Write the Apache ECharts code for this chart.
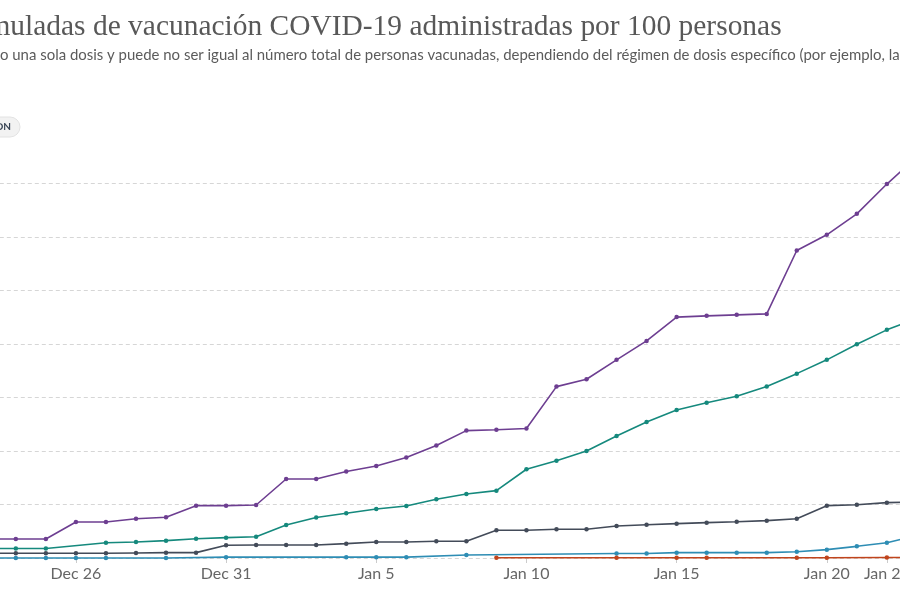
<!DOCTYPE html>
<html lang="es">
<head>
    <meta charset="utf-8">
    <title>Dosis acumuladas de vacunación COVID-19 administradas por 100 personas</title>
    <style>
        html, body { margin: 0; padding: 0; overflow: hidden; background: #fff; }
        /* el gráfico es más ancho que la ventana: la captura original está recortada */
        #main { position: absolute; left: -100px; top: 0; width: 1100px; height: 600px; }
    </style>
</head>
<body>
<div id="main"></div>
<script src="https://cdn.jsdelivr.net/npm/echarts@6/dist/echarts.min.js"></script>
<script type="text/javascript">

    // fechas (una por día)
    var dates = ['Dec 23', 'Dec 24', 'Dec 25', 'Dec 26', 'Dec 27', 'Dec 28', 'Dec 29', 'Dec 30', 'Dec 31',
        'Jan 1', 'Jan 2', 'Jan 3', 'Jan 4', 'Jan 5', 'Jan 6', 'Jan 7', 'Jan 8', 'Jan 9', 'Jan 10',
        'Jan 11', 'Jan 12', 'Jan 13', 'Jan 14', 'Jan 15', 'Jan 16', 'Jan 17', 'Jan 18', 'Jan 19',
        'Jan 20', 'Jan 21', 'Jan 22', 'Jan 23'];
    // etiquetas visibles del eje x
    var tickLabels = ['Dec 26', 'Dec 31', 'Jan 5', 'Jan 10', 'Jan 15', 'Jan 20', 'Jan 22'];

    // dosis por 100 personas (null = sin dato ese día)
    var purpleData = [1.78, 1.78, 1.78, 3.36, 3.36, 3.67, 3.80, 4.89, 4.89,
        4.95, 7.38, 7.38, 8.08, 8.60, 9.39, 10.50, 11.90, 11.98, 12.10,
        16.01, 16.70, 18.51, 20.28, 22.50, 22.62, 22.71, 22.80, 28.72,
        30.19, 32.15, 34.93, 37.48];
    var tealData = [0.89, 0.89, 0.89, null, 1.43, 1.50, 1.62, 1.80, 1.90,
        1.99, 3.08, 3.79, 4.18, 4.58, 4.86, 5.49, 5.98, 6.29, 8.29,
        9.09, 10.00, 11.40, 12.71, 13.83, 14.51, 15.11, 16.01, 17.22,
        18.51, 19.97, 21.31, 22.38];
    var grayData = [0.44, 0.44, 0.44, 0.44, 0.44, 0.47, 0.50, 0.50, 1.19,
        1.21, 1.21, 1.21, 1.34, 1.50, 1.50, 1.57, 1.57, 2.59, 2.59,
        2.69, 2.69, 2.99, 3.11, 3.21, 3.30, 3.39, 3.49, 3.67,
        4.89, 4.98, 5.17, 5.23];
    var blueData = [0, 0, 0, 0, 0, null, 0, null, 0.08,
        null, null, null, 0.08, 0.08, 0.08, null, 0.28, null, null,
        null, null, 0.42, 0.42, 0.50, 0.50, 0.50, 0.50, 0.59,
        0.78, 1.09, 1.43, 2.10];
    var redData = [null, null, null, null, null, null, null, null, null,
        null, null, null, null, null, null, null, null, 0.02, null,
        null, null, 0.02, null, 0.02, 0.02, null, null, 0.03,
        0.03, null, 0.04, 0.04];

    var OFF = 100; // desplazamiento del contenedor respecto a la ventana

    var titleText = 'Dosis acumuladas de vacunación COVID-19 administradas por 100 personas';
    var subtitleText = 'Contabilizado como una sola dosis y puede no ser igual al número total de personas vacunadas, ' +
        'dependiendo del régimen de dosis específico (por ejemplo, las personas reciben varias dosis).';

    // medir texto para colocar el recorte igual que en la captura
    var ctx = document.createElement('canvas').getContext('2d');
    function textWidth(s, font) {
        ctx.font = font;
        return ctx.measureText(s).width;
    }
    var titleFamily = '"Liberation Serif", "DejaVu Serif", serif';
    var t28 = '28px ' + titleFamily;
    var titleVisible = textWidth('uladas de vacunación COVID-19 administradas por 100 personas', t28) + 0.45 * textWidth('m', t28);
    var titleSize = 28 * 782 / titleVisible;
    var tFont = titleSize + 'px ' + titleFamily;
    var titleX = -(textWidth('Dosis acu', tFont) + 0.55 * textWidth('m', tFont));

    var subFamily = 'Lato, "Noto Sans", sans-serif';
    var s14 = '14px ' + subFamily;
    var subSize = 14 * 900 / textWidth('o una sola dosis y puede no ser igual al número total de personas vacunadas, dependiendo del régimen de dosis específico (por ejemplo, la', s14);
    var subX = -textWidth('Contabilizado com', subSize + 'px ' + subFamily);

    function isTick(index) {
        return tickLabels.indexOf(dates[index]) >= 0;
    }

    function lineSeries(name, data, color) {
        return {
            name: name,
            type: 'line',
            data: data,
            connectNulls: true,
            clip: false,
            symbol: 'circle',
            symbolSize: 4.5,
            showSymbol: true,
            lineStyle: {color: color, width: 1.6},
            itemStyle: {color: color},
            emphasis: {disabled: true},
            animation: false
        };
    }

    var myChart = echarts.init(document.getElementById('main'));
    var option = {
        animation: false,
        grid: {left: OFF - 14.2, right: 1100 - OFF - 916.9, top: 183.3, bottom: 42, containLabel: false},
        xAxis: {
            type: 'category',
            data: dates,
            boundaryGap: false,
            axisLine: {show: false},
            axisTick: {show: true, interval: isTick, length: 5, lineStyle: {color: '#cccccc'}},
            axisLabel: {
                interval: isTick,
                margin: 8,
                color: '#666666',
                fontFamily: 'Lato',
                fontSize: 16
            },
            splitLine: {show: false}
        },
        yAxis: {
            type: 'value',
            min: 0,
            max: 35,
            interval: 5,
            axisLine: {show: false},
            axisTick: {show: false},
            axisLabel: {show: false},
            splitLine: {lineStyle: {color: '#d6d6d6', type: [4, 3], width: 1}}
        },
        graphic: [
            {
                type: 'text',
                left: OFF + titleX, top: 13,
                style: {text: titleText, font: tFont, fill: '#585858'}
            },
            {
                type: 'text',
                left: OFF + subX, top: 48,
                style: {text: subtitleText, font: subSize + 'px ' + subFamily, fill: '#5b5b5b'}
            },
            {
                type: 'rect',
                shape: {x: OFF - 60, y: 117, width: 80, height: 20, r: 10},
                style: {fill: '#f2f2f2', stroke: '#e2e2e2', lineWidth: 1}
            },
            {
                type: 'text',
                style: {x: OFF + 11, y: 127, text: 'ON', align: 'right', verticalAlign: 'middle',
                    font: 'bold 10px Lato, sans-serif', fill: '#3a4656'}
            }
        ],
        series: [
            lineSeries('purple', purpleData, '#6d3e91'),
            lineSeries('teal', tealData, '#15897d'),
            lineSeries('gray', grayData, '#434b59'),
            lineSeries('blue', blueData, '#2e8db4'),
            lineSeries('red', redData, '#c0441c')
        ]
    };
    myChart.setOption(option);

</script>
</body>
</html>
